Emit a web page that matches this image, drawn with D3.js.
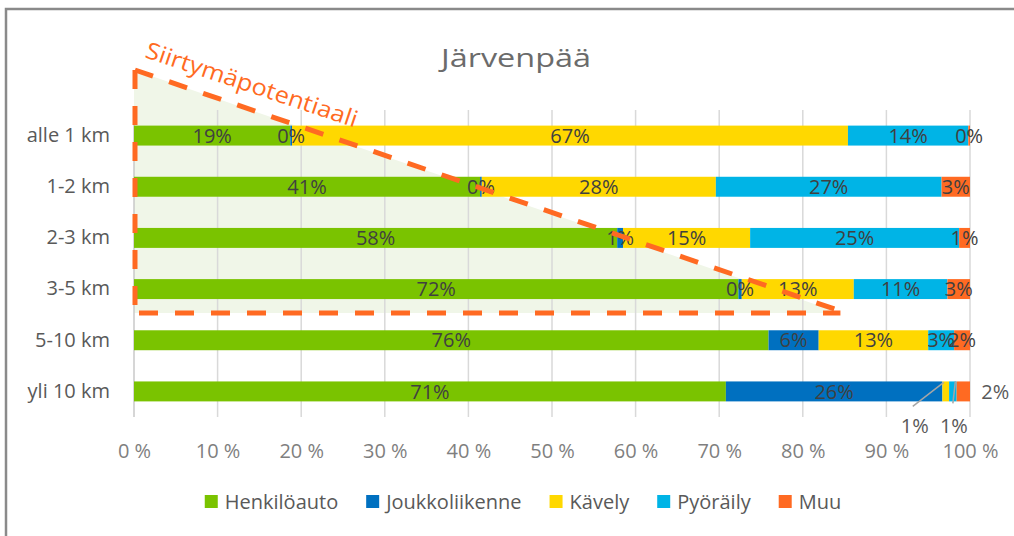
<!DOCTYPE html>
<html>
<head>
<meta charset="utf-8">
<script src="https://cdn.jsdelivr.net/npm/d3@7"></script>
<style>
  body { margin: 0; background: #fff; }
  svg { display: block; font-family: "Open Sans", "DejaVu Sans", sans-serif; }
</style>
</head>
<body>
<svg id="chart" width="1014" height="536"></svg>
<script>
// categories (top to bottom) and modes
const categories = ["alle 1 km", "1-2 km", "2-3 km", "3-5 km", "5-10 km", "yli 10 km"];
const modes = ["Henkilöauto", "Joukkoliikenne", "Kävely", "Pyöräily", "Muu"];
const colors = ["#7AC300", "#0070C0", "#FFD800", "#00B4E6", "#FF6A22"];

// shares (%) per mode, one value per category
const henkiloauto    = [18.7, 41.4, 57.8, 72.3, 75.9, 70.8];
const joukkoliikenne = [0.2, 0.2, 0.7, 0.4, 6.0, 25.9];
const kavely         = [66.5, 28.0, 15.2, 13.4, 13.1, 0.8];
const pyoraily       = [14.4, 27.0, 25.0, 11.2, 3.1, 0.9];
const muu            = [0.2, 3.4, 1.3, 2.7, 1.9, 1.6];

const xTicks = [0, 10, 20, 30, 40, 50, 60, 70, 80, 90, 100];

const title = "Järvenpää";
const annotation = "Siirtymäpotentiaali";

const series = [henkiloauto, joukkoliikenne, kavely, pyoraily, muu];
const rows = categories.map((c, i) => {
    const r = { cat: c };
    modes.forEach((m, j) => r[m] = series[j][i]);
    return r;
});

const svg = d3.select("#chart");
const plot = { left: 134, right: 970, top: 110, bottom: 417 };

const x = d3.scaleLinear().domain([0, 100]).range([plot.left, plot.right]);
const y = d3.scaleBand().domain(categories)
    .range([plot.top, plot.bottom])
    .paddingInner(0.61).paddingOuter(0.305);

// frame
svg.append("rect")
    .attr("x", 6).attr("y", 9).attr("width", 1030).attr("height", 560)
    .attr("fill", "none").attr("stroke", "#8a8a8a").attr("stroke-width", 2.5);

// title
svg.append("text")
    .attr("x", 516).attr("y", 67)
    .attr("text-anchor", "middle")
    .attr("font-size", 25)
    .attr("textLength", 150).attr("lengthAdjust", "spacingAndGlyphs")
    .attr("fill", "#6b6b6b")
    .text(title);

// shaded potential triangle (behind bars)
const triTop = 70, triBottom = 313, triRight = x(84.5);
svg.append("path")
    .attr("d", `M${x(0)},${triTop} L${x(0)},${triBottom} L${triRight},${triBottom} Z`)
    .attr("fill", "#F0F6E8");

// gridlines
svg.append("g")
    .selectAll("line")
    .data(xTicks)
    .join("line")
    .attr("x1", d => x(d)).attr("x2", d => x(d))
    .attr("y1", plot.top).attr("y2", plot.bottom)
    .attr("stroke", d => d === 0 ? "#c8c8c8" : "#d9d9d9")
    .attr("stroke-width", 1.5);

// x axis labels
const xAxis = d3.axisBottom(x).tickValues(xTicks).tickSize(0).tickFormat(d => d + " %");
svg.append("g")
    .attr("transform", `translate(0,${plot.bottom + 24})`)
    .call(xAxis)
    .call(g => g.select(".domain").remove())
    .call(g => g.selectAll("text")
        .attr("font-family", "Open Sans, sans-serif")
        .attr("font-size", 20).attr("fill", "#7f7f7f").attr("dy", "0.71em"));

// y axis labels
const yAxis = d3.axisLeft(y).tickSize(0).tickPadding(24);
svg.append("g")
    .attr("transform", `translate(${plot.left},0)`)
    .call(yAxis)
    .call(g => g.select(".domain").remove())
    .call(g => g.selectAll("text")
        .attr("font-family", "Open Sans, sans-serif")
        .attr("font-size", 20).attr("fill", "#595959"));

// stacked bars
const stacked = d3.stack().keys(modes)(rows);
const layers = svg.append("g").selectAll("g")
    .data(stacked)
    .join("g")
    .attr("fill", (d, i) => colors[i]);

layers.selectAll("rect")
    .data(d => d)
    .join("rect")
    .attr("x", d => x(d[0]))
    .attr("y", d => y(d.data.cat))
    .attr("width", d => x(d[1]) - x(d[0]))
    .attr("height", y.bandwidth());

// manually moved labels (offsets from segment centre)
const moved = {
    "yli 10 km|Kävely":   { dx: -31, dy: 34, leader: [[-33, 15], [-2, -9]] },
    "yli 10 km|Pyöräily": { dx: 1, dy: 34, leader: [[0, 12], [2.5, -10]] },
    "yli 10 km|Muu":      { dx: 32, dy: 0 }
};

const labels = [];
stacked.forEach(layer => {
    layer.forEach(d => {
        const cx = (x(d[0]) + x(d[1])) / 2;
        const cy = y(d.data.cat) + y.bandwidth() / 2;
        const m = moved[d.data.cat + "|" + layer.key] || { dx: 0, dy: 0 };
        labels.push({ cx, cy, m, text: Math.round(d.data[layer.key]) + "%" });
    });
});

svg.append("g").selectAll("line")
    .data(labels.filter(l => l.m.leader))
    .join("line")
    .attr("x1", l => l.cx + l.m.leader[0][0]).attr("y1", l => l.cy + l.m.leader[0][1])
    .attr("x2", l => l.cx + l.m.leader[1][0]).attr("y2", l => l.cy + l.m.leader[1][1])
    .attr("stroke", "#a6a6a6").attr("stroke-width", 1.5);

svg.append("g").selectAll("text")
    .data(labels)
    .join("text")
    .attr("x", l => l.cx + l.m.dx)
    .attr("y", l => l.cy + l.m.dy)
    .attr("dy", "0.36em")
    .attr("text-anchor", "middle")
    .attr("font-size", 20)
    .attr("fill", l => l.m.leader || l.m.dx ? "#595959" : "#404040")
    .text(l => l.text);

// dashed outline of the triangle
const dash = g => g.attr("fill", "none").attr("stroke", "#FF6A22")
    .attr("stroke-width", 5).attr("stroke-dasharray", "19 17");
svg.append("line").attr("x1", x(0) + 1).attr("y1", triTop)
    .attr("x2", x(0) + 1).attr("y2", triBottom).call(dash);
svg.append("line").attr("x1", x(0) + 1).attr("y1", triTop)
    .attr("x2", triRight).attr("y2", triBottom - 2).call(dash);
svg.append("line").attr("x1", x(0) + 5).attr("y1", triBottom)
    .attr("x2", triRight).attr("y2", triBottom).call(dash);

svg.append("text")
    .attr("transform", "translate(144,57) rotate(18.5)")
    .attr("font-size", 23)
    .attr("textLength", 222).attr("lengthAdjust", "spacingAndGlyphs")
    .attr("fill", "#FF6A22")
    .text(annotation);

// legend
const legend = svg.append("g");
let lx = 0;
modes.forEach((m, i) => {
    const item = legend.append("g").attr("transform", `translate(${lx},0)`);
    item.append("rect").attr("x", 0).attr("y", -7).attr("width", 13).attr("height", 13)
        .attr("fill", colors[i]);
    const t = item.append("text").attr("x", 20).attr("y", 0).attr("dy", "0.35em")
        .attr("font-size", 20).attr("fill", "#595959").text(m);
    lx += 20 + t.node().getComputedTextLength() + 28;
});
const legendWidth = lx - 28;
legend.attr("transform", `translate(${523 - legendWidth / 2},502)`);
</script>
</body>
</html>
